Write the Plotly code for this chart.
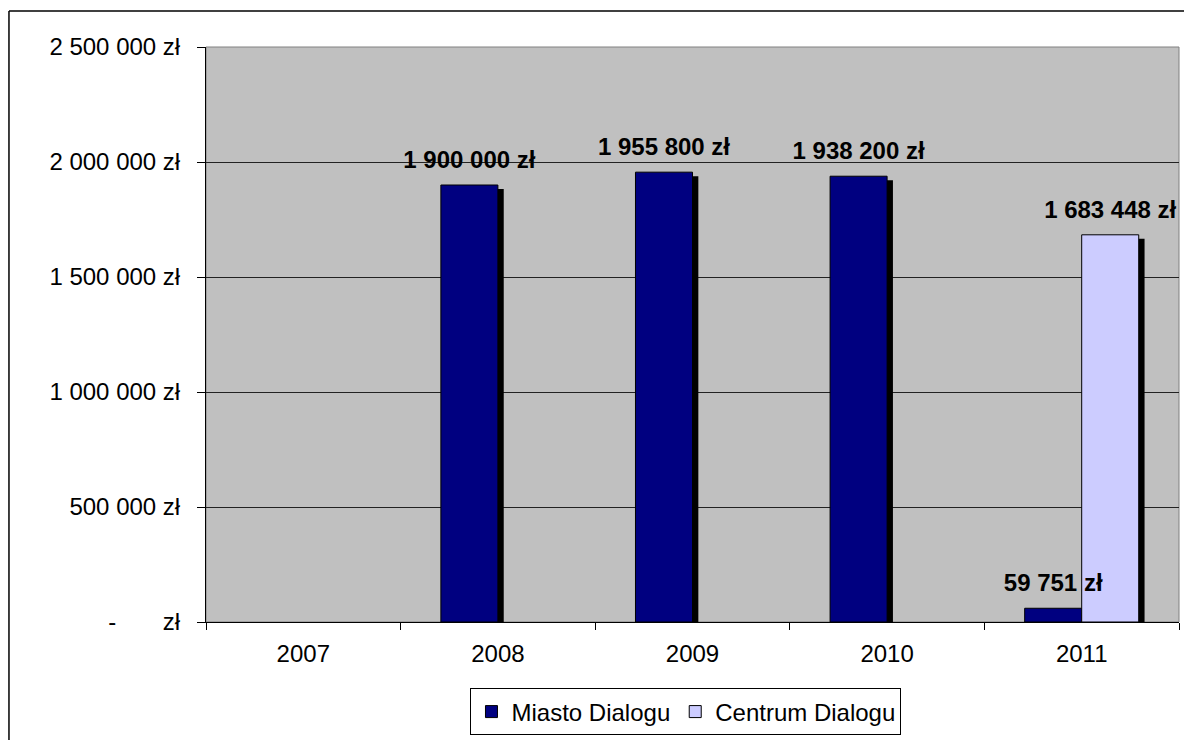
import plotly.graph_objects as go

years = ["2007", "2008", "2009", "2010", "2011"]
miasto = [None, 1900000, 1955800, 1938200, 59751]
centrum = [None, None, None, None, 1683448]
y_tickvals = [0, 500000, 1000000, 1500000, 2000000, 2500000]
y_ticktext = ["-\u00a0\u00a0\u00a0\u00a0\u00a0\u00a0 zł", "500 000 zł", "1 000 000 zł",
              "1 500 000 zł", "2 000 000 zł", "2 500 000 zł"]

FONT = "Liberation Sans, Arial, sans-serif"
NAVY = "#000080"
LAV = "#CCCCFF"
BAR_W = 0.293
SH_DX = 0.03
Y_MAX = 2500000
PLOT_H = 575
SH_DY = 4 * Y_MAX / PLOT_H
FS = 24

xs = list(range(len(years)))


def fmt(v):
    return f"{v:,.0f}".replace(",", " ") + " zł"


fig = go.Figure()

# shadows
for vals, off in [(miasto, -BAR_W), (centrum, 0.0)]:
    fig.add_trace(go.Bar(
        x=xs, y=vals, base=[-SH_DY] * len(xs), width=BAR_W, offset=off + SH_DX,
        marker=dict(color="black", line=dict(width=0)),
        showlegend=False, hoverinfo="skip"))

fig.add_trace(go.Bar(
    x=xs, y=miasto, width=BAR_W, offset=-BAR_W, name="Miasto Dialogu",
    marker=dict(color=NAVY, line=dict(color="black", width=1))))
fig.add_trace(go.Bar(
    x=xs, y=centrum, width=BAR_W, offset=0.0, name="Centrum Dialogu",
    marker=dict(color=LAV, line=dict(color="black", width=1))))

# data labels
for vals, off in [(miasto, -BAR_W / 2), (centrum, BAR_W / 2)]:
    px = [x + off for x, v in zip(xs, vals) if v]
    py = [v for v in vals if v]
    fig.add_trace(go.Scatter(
        x=px, y=py, mode="markers+text", text=[fmt(v) for v in py],
        textposition="top center",
        marker=dict(size=16, color="rgba(0,0,0,0)"),
        textfont=dict(family=FONT, size=FS, color="black", weight="bold"),
        showlegend=False, hoverinfo="skip", cliponaxis=True))

fig.update_layout(
    width=1184, height=740,
    margin=dict(l=206, r=5, t=47, b=118),
    paper_bgcolor="white", plot_bgcolor="#C0C0C0",
    barmode="overlay",
    font=dict(family=FONT, size=FS, color="black"),
    legend=dict(orientation="h", x=0.4933, y=-0.1565, xanchor="center", yanchor="middle",
                bordercolor="black", borderwidth=1, bgcolor="white",
                font=dict(family=FONT, size=FS), itemwidth=30,
                traceorder="normal"),
    xaxis=dict(range=[-0.5, 4.5], tickvals=xs, ticktext=years, ticks="", showgrid=False,
               zeroline=False, showline=True, linecolor="black", linewidth=1,
               minor=dict(tickvals=[i - 0.5 for i in range(len(years) + 1)], ticks="outside",
                          ticklen=7, tickcolor="black", showgrid=False),
               ticklabelstandoff=10, fixedrange=True),
    yaxis=dict(range=[0, Y_MAX], tickvals=y_tickvals, ticktext=y_ticktext, ticks="outside",
               ticklen=8, tickcolor="black", showgrid=True, gridcolor="#222222", gridwidth=1,
               zeroline=False, showline=True, linecolor="black", linewidth=1,
               ticklabelstandoff=12, fixedrange=True),
    shapes=[
        dict(type="rect", xref="paper", yref="paper", x0=0, x1=1, y0=0, y1=1,
             line=dict(color="#808080", width=1), layer="below"),
        dict(type="line", xref="paper", yref="paper", x0=-0.2025, x1=-0.2025, y0=1.0626, y1=-0.3,
             line=dict(color="black", width=1.5)),
        dict(type="line", xref="paper", yref="paper", x0=-0.2025, x1=1.1, y0=1.0626, y1=1.0626,
             line=dict(color="black", width=1.5)),
    ],
)

fig.write_html("out.html", config={"displayModeBar": False},
               post_script="document.body.style.margin='0';document.body.style.overflow='hidden';")
